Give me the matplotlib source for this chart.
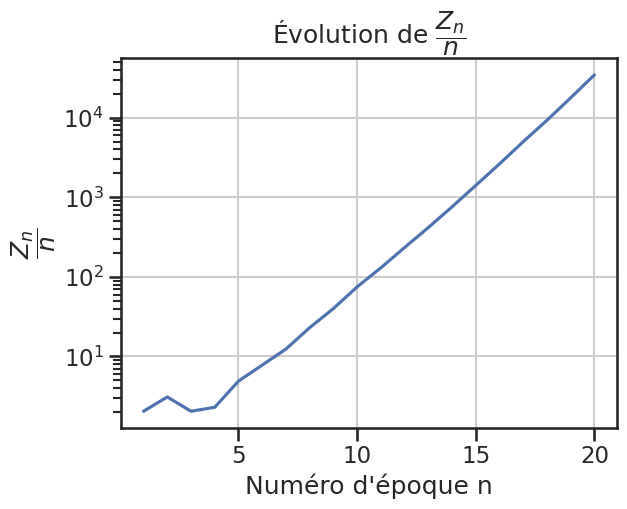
import matplotlib
matplotlib.use("Agg")
from matplotlib import pyplot as plt
import seaborn as sns

# valeurs
epoques = list(range(1, 21))
zn_sur_n = [2.05, 3.1, 2.05, 2.3, 4.9, 7.8, 12.4, 23, 40, 75,
            130, 234, 417, 760, 1410, 2630, 5000, 9300, 17800, 34600]

sns.set_theme(context="talk", style="ticks")

fig = plt.figure(figsize=(6.27, 5.09), dpi=100)
plt.subplots_adjust(left=0.193, right=0.984, top=0.886, bottom=0.159)
plt.plot(epoques, zn_sur_n)
plt.yscale("log")
plt.grid(True)
plt.title(r"Évolution de $\dfrac{Z_n}{n}$")
plt.xlabel("Numéro d'époque n")
plt.ylabel(r"$\dfrac{Z_n}{n}$")
plt.xticks([5, 10, 15, 20])
plt.savefig("out.png", dpi=100)
